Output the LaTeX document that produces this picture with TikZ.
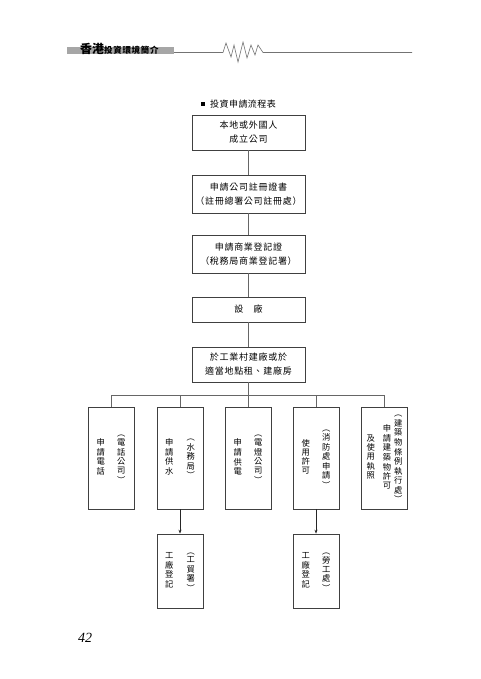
\documentclass[tikz,border=0pt]{standalone}
\usepackage{fontspec}
\newfontfamily\cjk{Noto Sans CJK TC}
\newfontfamily\pagefont{Liberation Serif Italic}
\usetikzlibrary{arrows.meta}

% one vertical column of characters
\newcommand\vcol[1]{\begin{tabular}{@{}c@{}}#1\end{tabular}}

\begin{document}
\begin{tikzpicture}[
  x=1pt, y=-1pt,
  box/.style={draw=black!75, line width=0.7pt, minimum width=113pt,
              align=center, inner sep=0pt,
              font=\cjk\fontsize{9}{14}\selectfont\addfontfeature{LetterSpace=8}},
  vbox/.style={draw=black!75, line width=0.7pt, minimum width=46pt,
               minimum height=102pt, inner sep=0pt,
               font=\cjk\fontsize{8.3}{8.7}\selectfont},
  link/.style={draw=black!60, line width=0.7pt},
  >={Stealth[length=4pt,width=3pt]}
]
  \useasboundingbox (0,0) rectangle (480,679);

  % page header
  \fill[black!35] (67,47.5) rectangle (174,54);
  \node[anchor=south west, inner sep=0pt, font=\cjk\bfseries] (head) at (80,54.5)
    {\fontsize{12}{12}\selectfont 香港\fontsize{8.5}{8.5}\selectfont\addfontfeature{LetterSpace=8}投資環境簡介};
  \draw[black!55, line width=0.6pt] (174,52.5) -- (223,52.5) -- (226,43) -- (231,57)
    -- (234,45) -- (238,62) -- (243,42) -- (247,58) -- (251,45) -- (255,55)
    -- (258,45) -- (263,52.5) -- (412,52.5);

  % title
  \node[fill=black, minimum size=3.5pt, inner sep=0pt] (dot) at (203,104) {};
  \node[anchor=west, inner sep=0pt,
        font=\cjk\fontsize{9}{9}\selectfont\addfontfeature{LetterSpace=5}] (title) at (210,104)
    {投資申請流程表};

  % main chain
  \node[box, minimum height=35pt] (found) at (248.5,132.5) {本地或外國人\\成立公司};
  \node[box, minimum height=38pt] (cert) at (248.5,194) {申請公司註冊證書\\（註冊總署公司註冊處）};
  \node[box, minimum height=38pt] (brc) at (248.5,254) {申請商業登記證\\（稅務局商業登記署）};
  \node[box, minimum height=25pt] (plant) at (248.5,309.5) {設　廠};
  \node[box, minimum height=35pt] (site) at (248.5,364.5) {於工業村建廠或於\\適當地點租、建廠房};

  \draw[link] (found) -- (cert);
  \draw[link] (cert) -- (brc);
  \draw[link] (brc) -- (plant);
  \draw[link] (plant) -- (site);

  % applications
  \node[vbox] (tel) at (111,458)
    {\vcol{申\\請\\電\\話}\hspace{12pt}\vcol{︵\\電\\話\\公\\司\\︶}};
  \node[vbox] (water) at (180,458)
    {\vcol{申\\請\\供\\水}\hspace{13pt}\vcol{︵\\水\\務\\局\\︶}};
  \node[vbox] (power) at (248,458)
    {\vcol{申\\請\\供\\電}\hspace{12pt}\vcol{︵\\電\\燈\\公\\司\\︶}};
  \node[vbox] (fire) at (316,458)
    {\vcol{使\\用\\許\\可}\hspace{12pt}\vcol{︵\\消\\防\\處\\申\\請\\︶}};
  \node[vbox] (build) at (384.5,458)
    {\vcol{及\\使\\用\\執\\照}\hspace{8pt}\vcol{申\\請\\建\\築\\物\\許\\可}\hspace{3pt}\vcol{︵\\建\\築\\物\\條\\例\\執\\行\\處\\︶}};

  \coordinate (bus) at (248.5,395);
  \draw[link] (site) -- (bus);
  \draw[link] (tel |- bus) -- (build |- bus);
  \foreach \n in {tel,water,power,fire,build}
    \draw[link] (\n |- bus) -- (\n.north);

  % registration
  \node[vbox, minimum height=74pt] (regw) at (180,571)
    {\vcol{工\\廠\\登\\記}\hspace{13pt}\vcol{︵\\工\\貿\\署\\︶}};
  \node[vbox, minimum height=74pt] (regf) at (316,571)
    {\vcol{工\\廠\\登\\記}\hspace{12pt}\vcol{︵\\勞\\工\\處\\︶}};

  \draw[link, draw=black!85, ->] (water) -- (regw);
  \draw[link, draw=black!85, ->] (fire) -- (regf);

  % page number
  \node[font=\pagefont\fontsize{14}{14}\selectfont] (page) at (85,638) {42};
\end{tikzpicture}
\end{document}
